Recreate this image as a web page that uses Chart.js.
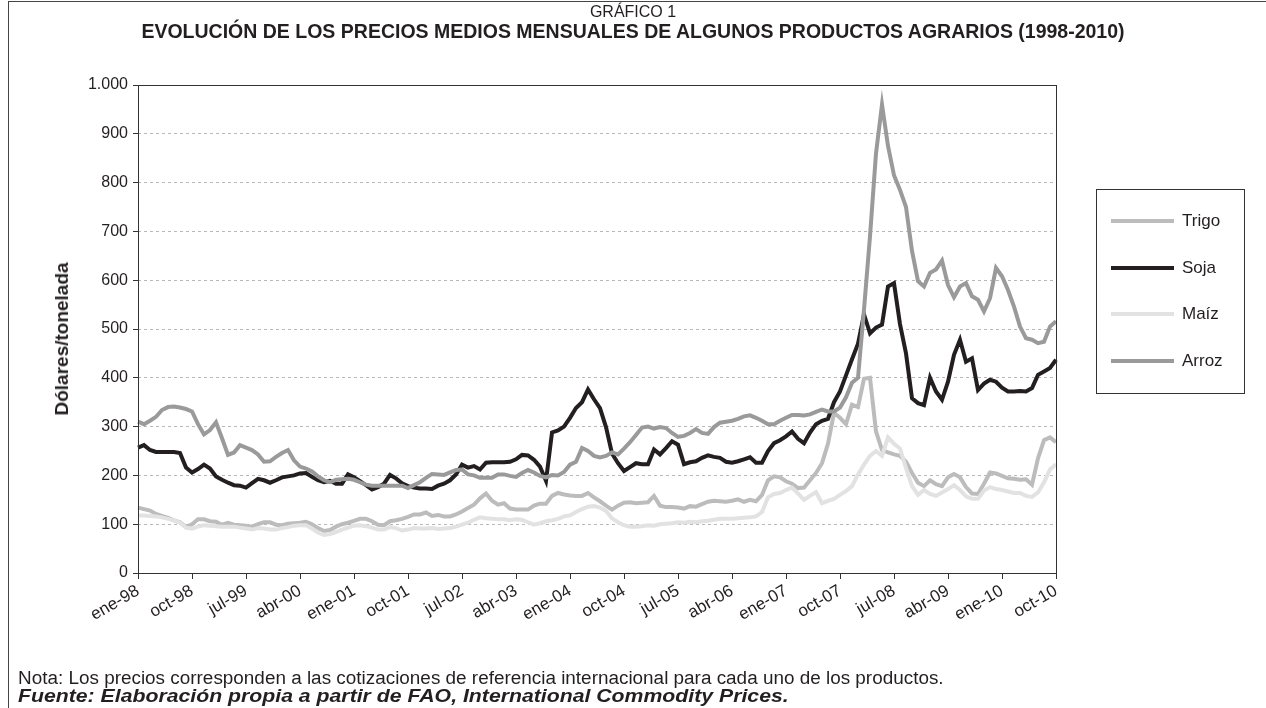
<!DOCTYPE html>
<html lang="es">
<head>
<meta charset="utf-8">
<title>Gráfico 1</title>
<script src="https://cdn.jsdelivr.net/npm/chart.js@4.4.0/dist/chart.umd.min.js"></script>
<style>
  html, body { margin: 0; padding: 0; background: #fff; }
  body { width: 1266px; height: 708px; position: relative; overflow: hidden;
         font-family: "Liberation Sans", Arial, sans-serif; color: #231f20; }
  #marco { position: absolute; left: 8px; top: 1px; width: 1300px; height: 760px; border: 1px solid #444; }
  #grafico { position: absolute; left: 0; top: 0; }
  .titulo { position: absolute; left: 0; width: 1266px; text-align: center; white-space: nowrap; }
  #t1 { top: 3px; font-size: 16px; }
  #t2 { top: 20px; font-size: 19.5px; font-weight: bold; }
  #ytitulo { position: absolute; left: 62px; top: 339px; white-space: nowrap; font-size: 19px; font-weight: bold;
             transform: translate(-50%, -50%) rotate(-90deg); }
  .nota { position: absolute; left: 18px; white-space: nowrap; font-size: 18px; transform-origin: 0 50%; }
  #n1 { top: 668px; transform: scaleX(1.05); }
  #n2 { top: 686px; font-weight: bold; font-style: italic; transform: scaleX(1.18); }
  #leyenda { position: absolute; left: 1096px; top: 189px; width: 147px; height: 203px; border: 1px solid #333; }
  .item { position: absolute; left: 0; height: 20px; width: 147px; }
  .item .linea { position: absolute; left: 14px; top: 8px; width: 63px; height: 4px; }
  .item span { position: absolute; left: 85px; top: 0; font-size: 17px; line-height: 20px; }
</style>
</head>
<body>
<div id="marco"></div>
<canvas id="grafico" width="1266" height="708"></canvas>
<div class="titulo" id="t1">GRÁFICO 1</div>
<div class="titulo" id="t2">EVOLUCIÓN DE LOS PRECIOS MEDIOS MENSUALES DE ALGUNOS PRODUCTOS AGRARIOS (1998-2010)</div>
<div id="ytitulo">Dólares/tonelada</div>
<div id="leyenda"></div>
<div class="nota" id="n1">Nota: Los precios corresponden a las cotizaciones de referencia internacional para cada uno de los productos.</div>
<div class="nota" id="n2">Fuente: Elaboración propia a partir de FAO, International Commodity Prices.</div>
<script>
// meses ene-98 ... oct-10 (154 meses)
const MESES = ['ene', 'feb', 'mar', 'abr', 'may', 'jun', 'jul', 'ago', 'sep', 'oct', 'nov', 'dic'];
const ANIOS = ['98', '99', '00', '01', '02', '03', '04', '05', '06', '07', '08', '09', '10'];
const N_MESES = 154;

// dólares/tonelada
const trigo = [
  134, 131, 128, 121, 117, 113, 108, 104, 94, 100,
  110, 110, 106, 105, 99, 103, 99, 98, 97, 95,
  100, 104, 104, 99, 98, 101, 102, 103, 105, 100,
  92, 86, 88, 95, 100, 103, 107, 111, 111, 106,
  99, 98, 106, 108, 111, 115, 120, 120, 124, 117,
  119, 116, 116, 120, 126, 133, 140, 153, 163, 148,
  140, 143, 132, 130, 130, 130, 138, 142, 142, 158,
  164, 161, 159, 158, 158, 164, 155, 147, 138, 130,
  138, 144, 145, 143, 144, 145, 158, 138, 135, 135,
  134, 132, 137, 136, 141, 146, 148, 147, 146, 148,
  151, 146, 150, 147, 160, 190, 198, 196, 188, 183,
  174, 175, 190, 205, 225, 265, 328, 318, 305, 345,
  340, 398, 400, 290, 252, 247, 243, 240, 228, 205,
  185, 178, 190, 182, 178, 196, 203, 196, 176, 163,
  162, 183, 206, 204, 199, 194, 193, 191, 192, 181,
  235, 272, 278, 268
];
const soja = [
  257, 262, 252, 248, 248, 248, 248, 246, 216, 206,
  213, 222, 214, 198, 191, 185, 180, 179, 175, 184,
  193, 190, 185, 190, 196, 198, 200, 204, 205, 197,
  190, 186, 189, 183, 183, 202, 196, 188, 180, 171,
  176, 183, 201, 194, 184, 178, 175, 173, 173, 172,
  179, 183, 190, 202, 222, 216, 219, 212, 226, 227,
  227, 227, 228, 233, 242, 241, 232, 218, 189, 288,
  292, 300, 318, 338, 350, 376, 356, 338, 299, 245,
  225, 209, 217, 225, 223, 223, 253, 243, 256, 270,
  263, 223, 227, 229, 236, 241, 238, 236, 228, 226,
  229, 233, 237, 226, 226, 250, 266, 272, 280, 290,
  275, 266, 288, 305, 312, 316, 350, 372, 405, 438,
  470, 530, 491, 503, 509, 587, 594, 510, 450, 358,
  348, 344, 400, 372, 355, 392, 447, 478, 433, 440,
  375, 388, 396, 392, 380, 372, 372, 373, 372, 379,
  406, 413, 420, 437
];
const maiz = [
  118, 118, 117, 116, 114, 111, 108, 103, 93, 91,
  95, 98, 97, 96, 95, 95, 95, 93, 91, 89,
  92, 91, 89, 89, 92, 94, 97, 98, 98, 91,
  83, 78, 80, 84, 89, 93, 97, 98, 96, 93,
  89, 89, 94, 92, 87, 89, 92, 91, 91, 92,
  90, 91, 92, 95, 99, 103, 109, 114, 112, 111,
  110, 110, 108, 110, 109, 104, 99, 102, 106, 108,
  111, 116, 118, 125, 131, 136, 137, 134, 127, 112,
  104, 98, 95, 95, 96, 98, 97, 100, 101, 102,
  104, 103, 105, 104, 106, 107, 109, 111, 111, 111,
  112, 113, 114, 116, 125, 155, 162, 164, 170, 175,
  163, 150, 158, 166, 143, 148, 152, 160, 168, 178,
  202, 222, 240, 250, 240, 278, 265, 255, 215, 178,
  160, 170, 162, 158, 165, 172, 180, 170, 157, 152,
  152, 169, 176, 172, 170, 167, 164, 164, 158, 156,
  165, 186, 212, 223
];
const arroz = [
  310, 305, 312, 320, 334, 340, 341, 339, 336, 331,
  305, 284, 293, 309, 276, 242, 247, 262, 257, 252,
  243, 228, 229, 238, 246, 252, 231, 218, 214, 208,
  198, 190, 186, 191, 192, 193, 191, 186, 181, 179,
  179, 179, 179, 179, 179, 174, 180, 186, 195, 203,
  202, 201, 206, 211, 212, 202, 200, 195, 195, 195,
  202, 202, 199, 197, 205, 211, 206, 199, 196, 201,
  200, 207, 222, 228, 256, 250, 240, 237, 240, 247,
  243, 255, 268, 283, 298, 300, 296, 299, 297, 287,
  279, 281, 287, 295, 287, 285, 299, 308, 310, 312,
  316, 321, 323, 318, 312, 305, 305, 312, 318, 324,
  324, 323, 325, 330, 335, 331, 331, 339, 360, 390,
  400, 540, 690, 860, 960, 875, 815, 785, 750, 660,
  598, 587, 615, 622, 640, 590, 565, 587, 594, 567,
  560, 536, 563, 625, 608, 580, 546, 505, 481, 478,
  471, 474, 505, 516
];

const NOMBRES = ['Trigo', 'Soja', 'Maíz', 'Arroz'];
const VALORES = [trigo, soja, maiz, arroz];
const COLORES = ['#bcbcbc', '#231f20', '#e2e2e2', '#9a9a9a'];

const etiquetas = [];
for (const a of ANIOS) {
  for (const m of MESES) {
    if (etiquetas.length < N_MESES) etiquetas.push(m + '-' + a);
  }
}

const fuente = '"Liberation Sans", Arial, sans-serif';
const tinta = '#231f20';

// borde del área de trazado
const marco = {
  id: 'marco',
  afterDraw(chart) {
    const a = chart.chartArea;
    const ctx = chart.ctx;
    ctx.save();
    ctx.strokeStyle = '#333';
    ctx.lineWidth = 1;
    ctx.strokeRect(Math.round(a.left) + 0.5, Math.round(a.top) + 0.5,
      Math.round(a.right - a.left), Math.round(a.bottom - a.top));
    ctx.restore();
  }
};

new Chart(document.getElementById('grafico'), {
  type: 'line',
  data: {
    labels: etiquetas,
    datasets: NOMBRES.map((n, i) => ({
      label: n,
      data: VALORES[i],
      borderColor: COLORES[i],
      backgroundColor: COLORES[i],
      borderWidth: 4,
      pointRadius: 0,
      tension: 0,
      order: NOMBRES.length - i
    }))
  },
  options: {
    responsive: false,
    animation: false,
    layout: { padding: { left: 52, right: 210, top: 85, bottom: 75 } },
    plugins: {
      legend: { display: false },
      tooltip: { enabled: false }
    },
    scales: {
      x: {
        type: 'category',
        offset: false,
        afterFit: (s) => { s.height = 60; },
        border: { display: false },
        grid: {
          drawOnChartArea: false,
          drawTicks: true,
          tickLength: 6,
          tickColor: '#333',
          tickBorderDash: []
        },
        ticks: {
          autoSkip: false,
          minRotation: 30,
          maxRotation: 30,
          padding: 2,
          color: tinta,
          font: { family: fuente, size: 17 },
          callback: (v, i) => (i % 9 === 0 ? etiquetas[i] : null)
        }
      },
      y: {
        min: 0,
        max: 1000,
        afterFit: (s) => { s.width = 86; },
        border: { display: false, dash: [3, 3] },
        grid: {
          color: '#b8b8b8',
          borderDash: [3, 3],
          tickLength: 5,
          tickColor: '#333',
          tickBorderDash: []
        },
        ticks: {
          stepSize: 100,
          padding: 5,
          color: tinta,
          font: { family: fuente, size: 16 },
          callback: (v) => String(v).replace(/\B(?=(\d{3})+(?!\d))/g, '.')
        }
      }
    }
  },
  plugins: [marco]
});

// leyenda
const leyenda = document.getElementById('leyenda');
NOMBRES.forEach((n, i) => {
  const fila = document.createElement('div');
  fila.className = 'item';
  fila.style.top = (21 + i * 46.7) + 'px';
  const linea = document.createElement('div');
  linea.className = 'linea';
  linea.style.background = COLORES[i];
  const txt = document.createElement('span');
  txt.textContent = n;
  fila.appendChild(linea);
  fila.appendChild(txt);
  leyenda.appendChild(fila);
});
</script>
</body>
</html>
